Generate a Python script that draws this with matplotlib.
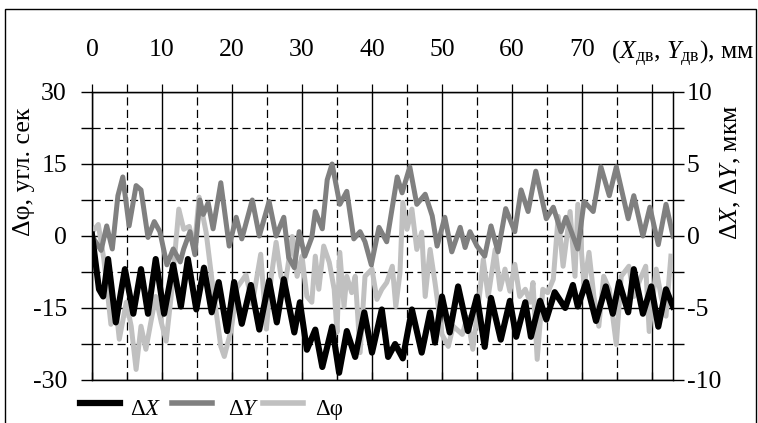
import matplotlib
matplotlib.use("Agg")
import matplotlib.pyplot as plt
from matplotlib.lines import Line2D
from matplotlib.patches import Rectangle
import numpy as np

plt.rcParams['font.family'] = ['Liberation Serif', 'DejaVu Serif']
plt.rcParams['mathtext.fontset'] = 'custom'
plt.rcParams['mathtext.rm'] = 'Liberation Serif'
plt.rcParams['mathtext.it'] = 'Liberation Serif:italic'

# ---- data ----
# dY, mkm (right axis)
dy_x = [0.0, 1.3, 2.1, 2.9, 3.7, 4.4, 5.3, 6.3, 7.0, 8.0, 8.9, 9.7, 10.7, 11.6, 12.6, 13.1,
        14.0, 14.7, 15.4, 15.9, 16.6, 17.3, 18.4, 19.6, 20.6, 21.4, 22.9, 23.9, 25.3, 26.3,
        27.4, 28.1, 28.9, 29.6, 30.4, 31.4, 31.9, 32.9, 33.6, 34.3, 35.4, 36.4, 37.4, 38.3,
        39.0, 39.9, 41.0, 42.1, 43.6, 44.3, 45.4, 46.4, 47.6, 48.6, 49.3, 50.4, 51.4, 52.6,
        53.3, 54.0, 55.0, 56.1, 57.0, 58.0, 59.1, 60.4, 61.3, 62.3, 63.4, 64.9, 65.9, 67.0,
        67.7, 69.4, 70.3, 71.6, 72.7, 73.9, 74.9, 76.6, 77.4, 78.7, 79.7, 80.9, 82.0, 83.0]
dy_v = [0.0, -1.0, 0.7, -0.9, 2.8, 4.1, 0.7, 3.5, 3.2, -0.1, 1.0, 0.3, -2.0, -0.9, -1.8, -0.9,
        0.3, -1.3, 2.5, 1.5, 2.3, 0.5, 3.7, -0.7, 1.3, -0.2, 2.5, 0.0, 2.4, 0.0,
        1.3, -1.5, -2.2, 0.3, -1.4, -0.1, 1.7, 0.5, 3.9, 5.0, 2.2, 3.1, -0.2, 0.3,
        -0.4, -2.0, 0.6, -0.4, 4.1, 3.0, 4.8, 2.2, 2.9, 1.4, -0.7, 1.3, -1.1, 0.6,
        -0.8, 0.3, -0.7, -1.4, 0.7, -1.1, 1.9, 0.3, 3.2, 1.7, 4.5, 1.2, 2.0, 0.3,
        1.3, -0.9, 2.4, 1.7, 4.8, 2.8, 4.8, 1.2, 2.8, 0.0, 2.0, -0.6, 2.2, 0.0]

# dX, mkm (right axis)
dx_x = [0.0, 1.0, 1.6, 2.3, 3.4, 4.7, 5.9, 7.0, 8.0, 9.1, 10.3, 11.6, 12.7, 13.7, 14.9,
        16.0, 17.1, 18.1, 19.3, 20.3, 21.4, 22.7, 23.9, 25.3, 26.4, 27.4, 28.9, 29.7, 30.7,
        31.9, 32.9, 34.3, 35.3, 36.4, 37.6, 38.9, 40.0, 41.4, 42.3, 43.3, 44.4, 45.7, 47.1,
        48.3, 49.0, 50.0, 51.1, 52.3, 53.7, 55.0, 56.1, 57.0, 58.4, 59.7, 60.6, 61.9, 62.7,
        64.0, 64.9, 66.1, 67.6, 68.7, 69.4, 70.6, 72.0, 73.4, 74.4, 75.3, 76.6, 77.4, 78.7,
        79.9, 80.9, 82.0, 83.0]
dx_v = [0.1, -3.7, -4.2, -1.6, -6.0, -2.3, -5.4, -2.3, -5.4, -1.6, -5.4, -2.0, -4.9, -1.6, -5.1,
        -2.2, -5.3, -3.2, -6.6, -3.2, -6.1, -3.4, -6.5, -3.1, -6.0, -3.0, -6.7, -4.6, -7.9,
        -6.5, -9.1, -6.3, -9.5, -6.6, -8.4, -5.3, -8.1, -5.1, -8.4, -7.5, -8.5, -5.1, -8.1,
        -5.3, -7.4, -4.2, -6.7, -3.5, -6.6, -4.2, -7.7, -4.3, -7.2, -4.5, -7.0, -4.6, -7.0,
        -4.5, -5.8, -3.9, -5.0, -3.4, -4.9, -3.2, -5.9, -3.5, -5.4, -3.2, -5.3, -2.3, -5.4,
        -3.5, -6.3, -3.7, -4.9]

# dphi, arcsec (left axis)
dphi_x = [0.0, 0.9, 1.7, 2.7, 3.4, 3.9, 4.9, 5.6, 6.3, 7.0, 7.7, 8.4, 9.1, 9.9, 10.6, 11.3,
          12.4, 13.1, 13.9, 14.6, 15.3, 16.3, 17.3, 18.4, 18.9, 19.9, 20.7, 22.0, 22.9, 24.1,
          24.9, 25.6, 26.3, 27.0, 27.6, 28.6, 29.3, 30.0, 30.7, 31.4, 31.9, 32.4, 33.1, 33.9,
          34.6, 35.0, 35.4, 36.0, 36.4, 37.1, 37.6, 38.3, 39.0, 40.0, 40.7, 41.4, 42.1, 42.9,
          43.4, 44.0, 44.4, 45.0, 45.7, 46.4, 47.1, 47.6, 48.3, 49.0, 50.0, 50.9, 51.6, 52.9,
          53.6, 54.4, 55.4, 55.9, 56.6, 57.6, 58.3, 59.0, 59.7, 60.4, 61.1, 61.9, 62.6, 63.0,
          63.6, 64.4, 65.1, 65.9, 66.6, 67.3, 68.3, 69.0, 69.4, 69.9, 70.3, 71.0, 71.7, 72.4,
          73.1, 73.9, 74.9, 75.6, 76.7, 77.4, 78.3, 79.1, 79.6, 80.6, 81.3, 82.0, 82.7]
dphi_v = [0.8, 2.4, -4.9, -18.4, -14.7, -21.5, -13.8, -18.8, -27.8, -18.8, -23.6, -18.0, -12.6,
          -18.0, -21.9, -12.6, 5.6, 1.4, 2.0, -2.8, 8.1, 0.8, -11.1, -23.0, -25.1, -19.4, -10.8,
          -8.1, -14.2, -3.8, -19.4, -8.6, -1.3, -8.4, -10.1, -0.1, -8.4, -4.2, -12.6, -13.8, -4.2,
          -11.1, -2.1, -5.5, -11.1, -20.1, -3.4, -14.7, -8.4, -11.8, -8.4, -24.3, -8.4, -6.9,
          -13.2, -11.1, -9.7, -6.3, -14.7, -7.6, 7.0, 1.4, 5.6, -2.8, 0.8, -12.6, -2.8, -9.7,
          -20.5, -23.0, -18.8, -20.5, -16.9, -23.6, -11.8, -4.9, -12.6, -2.8, -11.1, -6.9, -11.5,
          -5.9, -12.6, -11.1, -13.8, -9.7, -25.7, -11.1, -11.8, -9.0, 4.1, -6.3, 5.1, -8.4, 6.6,
          -2.8, -10.5, -3.4, -12.6, -18.8, -8.4, -11.1, -22.6, -8.4, -6.3, -12.6, -9.0, -6.3,
          -19.9, -6.9, -12.6, -16.7, -4.2]

top_ticks = [0, 10, 20, 30, 40, 50, 60, 70, 80]
top_labels = ['0', '10', '20', '30', '40', '50', '60', '70', '']
left_ticks = [-30, -15, 0, 15, 30]
left_labels = ['-30', '-15', '0', '15', '30']
right_ticks = [-10, -5, 0, 5, 10]
right_labels = ['-10', '-5', '0', '5', '10']

FS = 18.5
LFS = 16.5
W, H = 758, 423
fig = plt.figure(figsize=(W / 100, H / 100), dpi=100)
ax = fig.add_axes([92 / W, 1 - 380 / H, (673 - 92) / W, (380 - 92) / H])
ax.set_xlim(0, 83)
ax.set_ylim(-30, 30)

DASH = (0, (6.5, 3.5))
ax.set_xticks(top_ticks)
ax.set_xticks(np.arange(5, 80, 10), minor=True)
ax.set_yticks(left_ticks)
ax.set_yticks([-22.5, -7.5, 7.5, 22.5], minor=True)
ax.set_yticklabels(left_labels, fontsize=FS)
ax.grid(which='major', color='black', lw=1.0, ls='-')
ax.grid(which='minor', color='black', lw=0.9, ls=DASH)
ax.set_axisbelow(True)
ax.tick_params(axis='x', which='both', direction='in', length=6, labelbottom=False,
               bottom=True, top=False, width=0.9)
ax.tick_params(axis='y', which='both', direction='out', length=8, width=1.0, pad=10)

sec = ax.secondary_xaxis('top')
sec.set_xticks(top_ticks)
sec.set_xticklabels(top_labels, fontsize=FS)
sec.set_xticks(np.arange(5, 80, 10), minor=True)
sec.tick_params(which='both', direction='out', length=6, width=0.9, pad=16)
sec.spines['top'].set_visible(False)

for s in ax.spines.values():
    s.set_linewidth(1.0)

ax.plot(dphi_x, dphi_v, color='#c0c0c0', lw=3.6, solid_joinstyle='round', zorder=3)

ax2 = ax.twinx()
ax2.set_ylim(-10, 10)
ax2.set_yticks(right_ticks)
ax2.set_yticklabels(right_labels, fontsize=FS)
ax2.set_yticks([-7.5, -2.5, 2.5, 7.5], minor=True)
ax2.tick_params(axis='y', which='both', direction='out', length=8, width=1.0, pad=2)
ax2.plot(dy_x, dy_v, color='#808080', lw=3.6, solid_joinstyle='round', zorder=3)
ax2.plot(dx_x, dx_v, color='black', lw=4.4, solid_joinstyle='round', zorder=4)

# axis titles
fig.text(24 / W, 1 - 172 / H, 'Δφ, угл. сек', rotation=90, ha='center', va='center', fontsize=FS)
fig.text(731 / W, 1 - 172 / H, r'Δ$X$, Δ$Y$, мкм', rotation=90, ha='center', va='center',
         fontsize=FS)
fig.text(611 / W, 1 - 54 / H, r'($X_{\mathrm{дв}}$, $Y_{\mathrm{дв}}$), мм', ha='left',
         va='center', fontsize=FS)

# legend
leg_items = [('black', 4.5, r'Δ$X$', 80, 130), ('#808080', 4.0, r'Δ$Y$', 172, 228),
             ('#c0c0c0', 4.0, 'Δφ', 263, 315)]
for col, lw, lab, x0, tx in leg_items:
    fig.add_artist(Line2D([x0 / W, (x0 + 40) / W], [1 - 403 / H, 1 - 403 / H],
                          color=col, lw=lw, transform=fig.transFigure))
    fig.text(tx / W, 1 - 409 / H, lab, ha='left', va='center', fontsize=LFS)

# outer frame
fig.add_artist(Rectangle((5 / W, -0.05), (756 - 5) / W, 1 - 9 / H + 0.05, fill=False,
                         edgecolor='black', lw=1.0, transform=fig.transFigure))

fig.savefig('out.png', dpi=100)
